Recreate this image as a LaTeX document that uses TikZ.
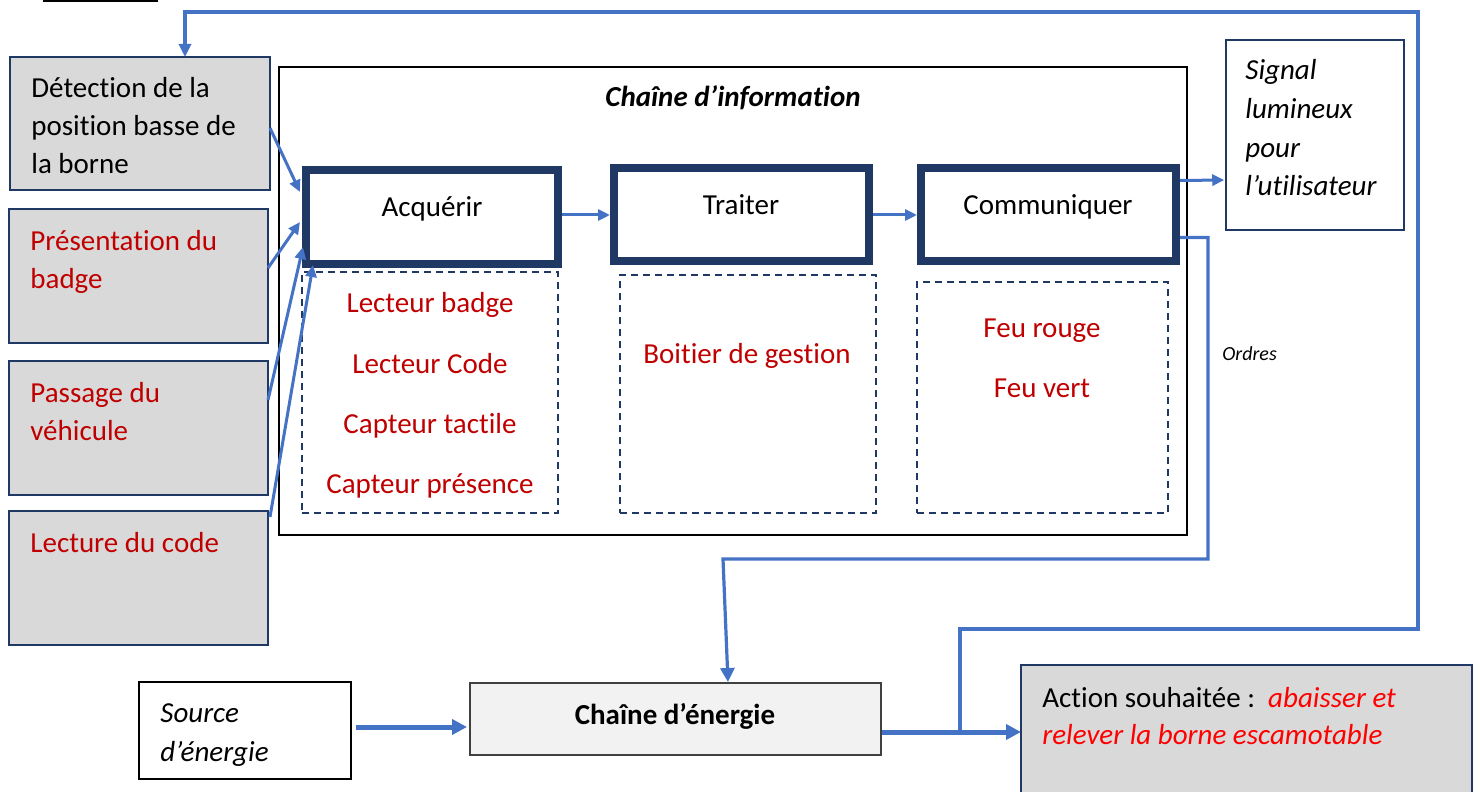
\documentclass[tikz,border=0pt]{standalone}
\usepackage{fontspec}
\setmainfont{Carlito}[Ligatures={NoCommon}]
\usetikzlibrary{arrows.meta,calc}
\definecolor{arrowblue}{HTML}{4472C4}
\definecolor{navy}{HTML}{203864}
\definecolor{graybg}{HTML}{D9D9D9}
\definecolor{lightbg}{HTML}{F2F2F2}
\definecolor{darkred}{HTML}{C00000}
\definecolor{brightred}{HTML}{FF0000}
\definecolor{edgegray}{HTML}{404040}
\begin{document}
\begin{tikzpicture}[x=0.5pt,y=-0.5pt,
  gbox/.style={draw=navy,line width=1.25pt,fill=graybg,inner sep=0pt,outer sep=0pt},
  fbox/.style={draw=navy,line width=4pt,fill=white,inner sep=0pt,outer sep=0pt},
  dbox/.style={draw=navy,line width=1.2pt,dash pattern=on 3.5pt off 2.5pt,inner sep=0pt,outer sep=0pt},
  lbl/.style={anchor=base west,inner sep=0pt,yshift=-1pt,font=\fontsize{14.5}{17}\selectfont},
  clbl/.style={anchor=base,inner sep=0pt,yshift=-1pt,font=\fontsize{14.5}{17}\selectfont},
  redtxt/.style={text=darkred},
  arr/.style={draw=arrowblue,line width=1.5pt,-{Triangle[length=6pt,width=5.5pt]}},
  thickarr/.style={draw=arrowblue,line width=2.5pt,-{Triangle[length=7.5pt,width=7.5pt]}},
  fbline/.style={draw=arrowblue,line width=1.6pt}
  ]
\useasboundingbox (0,0) rectangle (1480,792);
\draw[line width=1pt] (43,1) -- (158,1);

% Information chain frame
\node[draw=black,line width=0.75pt,minimum width=454pt,minimum height=234pt,inner sep=0pt] (info) at (733,301) {};
\node[anchor=base,inner sep=0pt,yshift=-1pt,font=\fontsize{14.5}{17}\selectfont\bfseries\itshape] (infot) at (733,105) {Chaîne d’information};

% left input boxes
\node[gbox,minimum width=130pt,minimum height=66.5pt] (det) at (140,123.5) {};
\node[gbox,minimum width=129.5pt,minimum height=67pt] (pres) at (138.5,276) {};
\node[gbox,minimum width=129.5pt,minimum height=67pt] (pass) at (138.5,428) {};
\node[gbox,minimum width=129.5pt,minimum height=67pt] (lect) at (138.5,578) {};
\node[lbl] (det1) at (31,96) {Détection de la};
\node[lbl] (det2) at (31,134) {position basse de};
\node[lbl] (det3) at (31,172) {la borne};
\node[lbl,redtxt] (pres1) at (30,248) {Présentation du};
\node[lbl,redtxt] (pres2) at (30,286) {badge};
\node[lbl,redtxt] (pass1) at (30,400) {Passage du};
\node[lbl,redtxt] (pass2) at (30,438) {véhicule};
\node[lbl,redtxt] (lect1) at (30,550) {Lecture du code};

% function boxes
\node[fbox,minimum width=126pt,minimum height=47pt] (acq) at (432,217) {};
\node[fbox,minimum width=127.5pt,minimum height=46.5pt] (trai) at (741.5,214.5) {};
\node[fbox,minimum width=127.5pt,minimum height=46.5pt] (comm) at (1048.5,214.5) {};
\node[clbl] (acqt) at (432,215) {Acquérir};
\node[clbl] (trait) at (741,213) {Traiter};
\node[clbl] (commt) at (1048,213) {Communiquer};

% dashed component boxes
\node[dbox,minimum width=128pt,minimum height=120.5pt] (d1) at (430,392.5) {};
\node[dbox,minimum width=128pt,minimum height=119pt] (d2) at (748,394) {};
\node[dbox,minimum width=125.5pt,minimum height=115.5pt] (d3) at (1042.5,397.5) {};
\node[clbl,redtxt] (c1) at (430,311) {Lecteur badge};
\node[clbl,redtxt] (c2) at (430,371) {Lecteur Code};
\node[clbl,redtxt] (c3) at (430,431) {Capteur tactile};
\node[clbl,redtxt] (c4) at (430,491) {Capteur présence};
\node[clbl,redtxt] (c5) at (747,362) {Boitier de gestion};
\node[clbl,redtxt] (c6) at (1042,335) {Feu rouge};
\node[clbl,redtxt] (c7) at (1042,395) {Feu vert};

% signal box
\node[draw=navy,line width=0.75pt,minimum width=89pt,minimum height=95pt,inner sep=0pt] (sig) at (1315,135) {};
\node[lbl,font=\fontsize{14.5}{17}\selectfont\itshape] (sig1) at (1245,78) {Signal};
\node[lbl,font=\fontsize{14.5}{17}\selectfont\itshape] (sig2) at (1245,117) {lumineux};
\node[lbl,font=\fontsize{14.5}{17}\selectfont\itshape] (sig3) at (1245,156) {pour};
\node[lbl,font=\fontsize{14.5}{17}\selectfont\itshape] (sig4) at (1245,194) {l’utilisateur};
\node[anchor=base west,inner sep=0pt,yshift=-1pt,font=\fontsize{10}{12}\selectfont\itshape] (ord) at (1222,358) {Ordres};

% energy chain
\node[draw=edgegray,line width=1pt,fill=lightbg,minimum width=205.5pt,minimum height=36pt,inner sep=0pt] (ener) at (675.5,719) {};
\node[clbl,font=\fontsize{14.5}{17}\selectfont\bfseries] (enert) at (675,722) {Chaîne d’énergie};
\node[draw=black,line width=0.75pt,fill=white,minimum width=106pt,minimum height=48.5pt,inner sep=0pt] (src) at (245,730.5) {};
\node[lbl,font=\fontsize{14.5}{17}\selectfont\itshape] (src1) at (160,720) {Source};
\node[lbl,font=\fontsize{14.5}{17}\selectfont\itshape] (src2) at (160,759) {d’énergie};
\node[gbox,line width=0.75pt,minimum width=225.5pt,minimum height=67.5pt] (act) at (1246.5,732.5) {};
\node[lbl] (act1) at (1042,705) {Action souhaitée :\ \ \textcolor{brightred}{\itshape abaisser et}};
\node[lbl,text=brightred,font=\fontsize{14.5}{17}\selectfont\itshape] (act2) at (1042,742) {relever la borne escamotable};

% connectors
\draw[arr] ($(det.east)+(0,4.5)$) -- ($(acq.west)+(-6,-25)$);
\draw[arr] ($(pres.east)+(0,-8)$) -- ($(acq.west)+(-6,5)$);
\draw[arr] ($(pass.east)+(0,-28)$) -- ($(acq.west)+(-3,30)$);
\draw[arr] ($(lect.east)+(2,-61)$) -- ($(acq.south west)+(7,1)$);
\draw[arr] ($(acq.east)+(4,-2)$) -- ($(trai.west)+(-4,0.5)$);
\draw[arr] ($(trai.east)+(4,0.5)$) -- ($(comm.west)+(-4,0.5)$);
\draw[arr] ($(comm.east)+(4,-34)$) -- ($(sig.west)+(-1,45)$);

\coordinate (o1) at (1208,237.5);
\coordinate (o2) at (1208,559);
\coordinate (o3) at (723,559);
\draw[arr,line width=1.6pt,-{Triangle[length=7pt,width=7pt]}] ($(comm.east)+(4,23)$) -- (o1) -- (o2) -- (o3) -- ($(ener.north)+(52.5,0)$);

\draw[thickarr] ($(src.east)+(4,-3.5)$) -- ($(ener.west)+(-2,8)$);
\draw[thickarr] ($(ener.east)+(0,13)$) -- ($(act.west)+(0,-0.5)$);

\coordinate (f0) at (960,730);
\coordinate (f1) at (960,629);
\coordinate (f2) at (1418,629);
\coordinate (f3) at (1418,12);
\coordinate (f4) at (185,12);
\draw[fbline,-{Triangle[length=6.5pt,width=6pt]}] (f0) -- (f1) -- (f2) -- (f3) -- (f4) -- ($(det.north)+(45,0)$);
\end{tikzpicture}
\end{document}
